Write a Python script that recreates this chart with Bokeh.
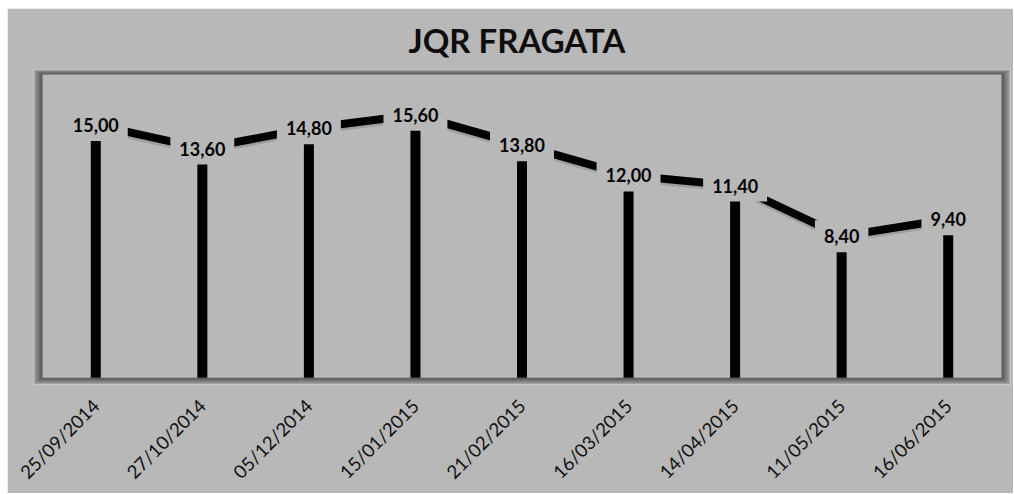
import math
from bokeh.plotting import figure
from bokeh.models import ColumnDataSource, Range1d, FixedTicker
from bokeh.core.properties import value
from bokeh.embed import file_html
from bokeh.resources import INLINE

dates = ["25/09/2014", "27/10/2014", "05/12/2014", "15/01/2015", "21/02/2015",
         "16/03/2015", "14/04/2015", "11/05/2015", "16/06/2015"]
values = [15.00, 13.60, 14.80, 15.60, 13.80, 12.00, 11.40, 8.40, 9.40]
labels = ["15,00", "13,60", "14,80", "15,60", "13,80", "12,00", "11,40", "8,40", "9,40"]

BG = "#b8b8b8"
W, H = 1006, 485
BL, BR, BT, BB = 26, 3, 61, 103
YMAX = 18
N = len(dates)

# pixel -> data conversion for the shadow margins inside the frame
PX_X = 1 / 106.56
PX_Y = 1 / 17.17
SH_L, SH_R, SH_T, SH_B = 9, 9, 5, 7

xs = [i + 0.5 for i in range(N)]
src = ColumnDataSource(dict(x=xs, y=values, zero=[0] * N, lab=labels,
                            ysh=[v - 0.15 for v in values]))

p = figure(x_range=Range1d(-SH_L * PX_X, N + SH_R * PX_X),
           y_range=Range1d(-SH_B * PX_Y, YMAX + SH_T * PX_Y),
           width=W, height=H, output_backend="svg", toolbar_location=None,
           margin=(8, 0, 0, 7),
           min_border_left=BL, min_border_right=BR, min_border_top=BT, min_border_bottom=BB)

p.background_fill_color = BG
p.border_fill_color = BG
p.outline_line_color = None
p.xgrid.visible = False
p.ygrid.visible = False
p.yaxis.visible = False

# soft shadow of the plot area
steps = 9
for k in range(steps, 0, -1):
    f = k / steps
    p.quad(left=[-SH_L * f * PX_X], right=[N + SH_R * f * PX_X],
           bottom=[-SH_B * f * PX_Y], top=[YMAX + SH_T * f * PX_Y],
           fill_color="black", fill_alpha=0.075, line_color=None)
p.quad(left=[0], right=[N], bottom=[0], top=[YMAX], fill_color=BG, line_color=None)

p.xaxis.ticker = FixedTicker(ticks=xs)
p.xaxis.major_label_overrides = {x: d for x, d in zip(xs, dates)}
p.xaxis.axis_line_color = None
p.xaxis.major_tick_line_color = None
p.xaxis.minor_tick_line_color = None
p.xaxis.major_label_orientation = math.pi / 4
p.xaxis.major_label_text_font = "Lato"
p.xaxis.major_label_text_font_size = "18.5px"
p.xaxis.major_label_text_color = "#111111"
p.xaxis.major_label_standoff = 12

p.title.text = "JQR FRAGATA"
p.title.align = "left"
p.title.offset = 375
p.title.text_font = "Lato"
p.title.text_font_size = "33px"
p.title.text_font_style = "bold"
p.title.text_color = "#0d0d0d"
p.title.standoff = 19

p.segment(x0="x", y0="zero", x1="x", y1="y", source=src, line_width=10,
          line_color="black", line_cap="butt")
p.line("x", "ysh", source=src, line_width=8, line_color="#8c8c8c", line_alpha=0.6)
p.line("x", "y", source=src, line_width=8, line_color="black", line_join="miter")

p.text(x="x", y="y", text="lab", source=src, text_align="center",
       text_baseline="middle", text_font=value("Lato"), text_font_style="bold",
       text_font_size="18px", text_color="black",
       background_fill_color=BG, padding=9)

open("out.html", "w").write(file_html(p, INLINE))
